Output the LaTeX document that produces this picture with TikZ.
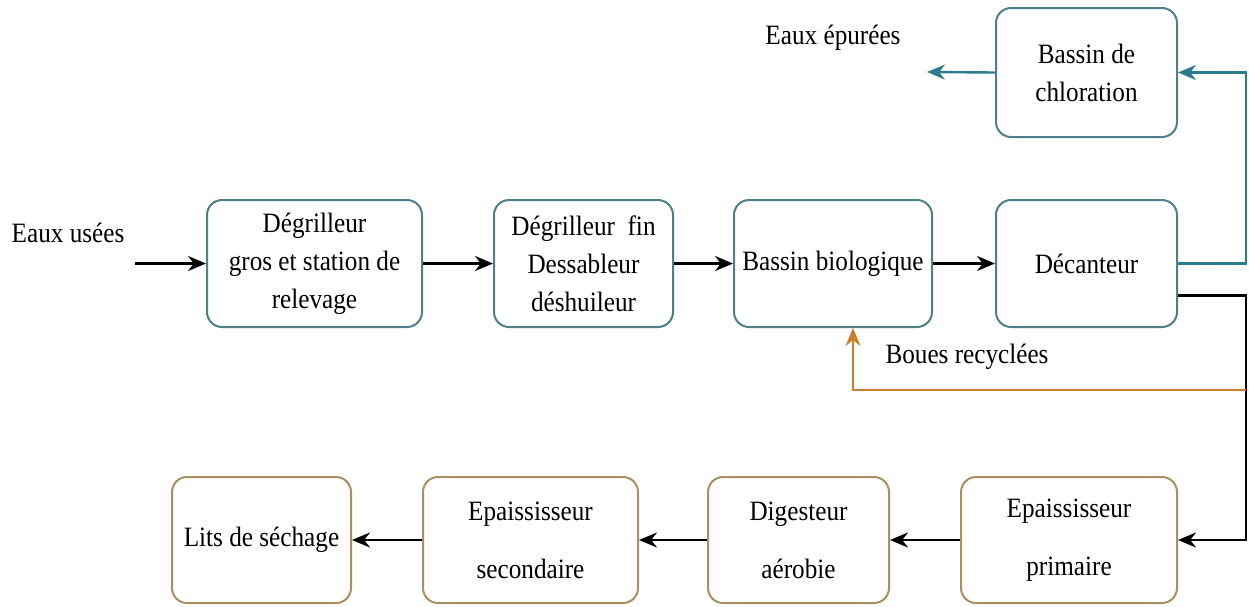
\documentclass[tikz,border=0pt]{standalone}
\usepackage{fontspec}
\setmainfont{Liberation Serif}[FakeStretch=0.9]
\usetikzlibrary{arrows.meta}
\definecolor{topline}{RGB}{80,127,140}
\definecolor{botline}{RGB}{168,144,96}
\definecolor{cleanw}{RGB}{42,122,144}
\definecolor{sludge}{RGB}{200,128,42}
\tikzset{unit/.style={draw=topline,line width=2pt,rounded corners=15pt,fill=white,
           align=center,inner sep=0pt,minimum height=127pt,font=\fontsize{28}{38}\selectfont},
         sunit/.style={unit,draw=botline,minimum height=126pt,font=\fontsize{28}{58}\selectfont},
         flow/.style={draw=black,line width=2.4pt,-{Stealth[length=18pt,width=15pt]}},
         cflow/.style={flow,draw=cleanw,-{Stealth[length=18pt,width=15pt,fill=cleanw]}},
         sflow/.style={flow,draw=sludge,-{Stealth[length=18pt,width=15pt,fill=sludge]}},
         lbl/.style={font=\fontsize{28}{34}\selectfont,inner sep=0pt}}

\begin{document}
\begin{tikzpicture}[x=1pt,y=-1pt]
  \useasboundingbox[fill=white] (0,0) rectangle (1249,606);
  % water line
  \node[unit,minimum width=215pt] (gros) at (314.5,263.5) {Dégrilleur\\gros et station de\\relevage};
  \node[unit,minimum width=179pt] (fin) at (583.5,263.5) {Dégrilleur~~fin\\Dessableur\\déshuileur};
  \node[unit,minimum width=198pt] (bio) at (833,263.5) {Bassin biologique};
  \node[unit,minimum width=181pt] (dec) at (1086.5,263.5) {Décanteur};
  \node[unit,minimum width=181pt,minimum height=129pt] (chl) at (1086.5,72.5) {Bassin de\\chloration};
  % sludge line
  \node[sunit,minimum width=179pt] (lits) at (261.5,540) {Lits de séchage};
  \node[sunit,minimum width=215pt] (sec) at (530.5,540) {Epaississeur\\secondaire};
  \node[sunit,minimum width=181pt] (dig) at (798.5,540) {Digesteur\\aérobie};
  \node[sunit,minimum width=216pt] (prim) at (1069,540) {Epaississeur\\primaire};
  \node[lbl] (eu) at (68,233) {Eaux usées};
  \node[lbl] (ep) at (833,38) {Eaux épurées};
  \node[lbl] (br) at (967,357) {Boues recyclées};
  \coordinate (in) at (135,263.5);
  \coordinate (out) at (927,72);
  \coordinate (rx) at (1246,0);
  \coordinate (bj) at (1246,390);

  \draw[flow] (in) -- (gros.west);
  \draw[flow] (gros) -- (fin);
  \draw[flow] (fin) -- (bio);
  \draw[flow] (bio) -- (dec);
  \draw[cflow] (dec.east) -- (dec.east -| rx) |- (chl.east);
  \draw[cflow] (chl.west) -- (out);
  \draw[flow] ([yshift=-32pt]dec.east) -- ([yshift=-32pt]dec.east -| rx) |- (prim.east);
  \draw[sflow] (bj) -| ([xshift=20pt]bio.south);
  \draw[flow] (prim) -- (dig);
  \draw[flow] (dig) -- (sec);
  \draw[flow] (sec) -- (lits);
\end{tikzpicture}
\end{document}
